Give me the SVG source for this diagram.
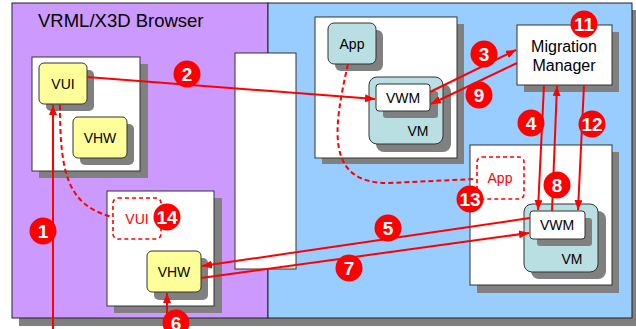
<svg xmlns="http://www.w3.org/2000/svg" width="636" height="329" viewBox="0 0 636 329">
<style>
  text { font-family: "Liberation Sans", Arial, sans-serif; }
  .sh { fill: #808080; }
  .win { fill: #ffffff; stroke: #333333; stroke-width: 1; }
  .yel { fill: #FFFF99; stroke: #333333; stroke-width: 1; }
  .teal { fill: #B9DFE2; stroke: #333333; stroke-width: 1; }
  .lbl { font-size: 14px; fill: #000000; text-anchor: middle; }
  .rl { font-size: 14px; fill: #ff0000; text-anchor: middle; }
  .dash { fill: #ffffff; stroke: #ff0000; stroke-width: 1.6; stroke-dasharray: 4 3; }
  .c { stroke: #ff0000; stroke-width: 2; fill: none; }
  .cd { stroke: #ff0000; stroke-width: 2; fill: none; stroke-dasharray: 5 3; }
  .badge circle { fill: #ff0000; }
  .badge text { font-size: 19px; font-weight: bold; fill: #ffffff; text-anchor: middle; }
</style>
<defs>
  <marker id="arr" markerUnits="userSpaceOnUse" markerWidth="10" markerHeight="8" refX="10" refY="4" orient="auto">
    <path d="M0,0 L10,4 L0,8 z" fill="#ff0000"/>
  </marker>
</defs>

<!-- panels -->
<g id="panels">
  <rect class="sh" x="19" y="10" width="620" height="316"/>
  <rect id="browser" x="12" y="3" width="256" height="315" fill="#CC99FF" stroke="#222" stroke-width="1"/>
  <rect id="host" x="268" y="3" width="364" height="315" fill="#99CCFF" stroke="#222" stroke-width="1"/>
  <text x="38" y="27" font-size="18.5" fill="#000">VRML/X3D Browser</text>
</g>

<!-- browser window with VUI and VHW -->
<g id="win-left">
  <rect class="sh" x="39" y="64" width="109" height="114"/>
  <rect class="win" x="32" y="57" width="108" height="114"/>
</g>
<g id="vui">
  <rect class="sh" x="46" y="70" width="48" height="41" rx="5"/>
  <rect class="yel" x="39" y="63" width="48" height="41" rx="5"/>
  <text class="lbl" x="63" y="88.5">VUI</text>
</g>
<g id="vhw-top">
  <rect class="sh" x="80" y="124" width="54" height="41" rx="5"/>
  <rect class="yel" x="73" y="117" width="54" height="41" rx="5"/>
  <text class="lbl" x="100" y="142.5">VHW</text>
</g>

<!-- lower browser window -->
<g id="win-low">
  <rect class="sh" x="114" y="198" width="108" height="115"/>
  <rect class="win" x="107" y="191" width="107" height="115"/>
</g>
<g id="vui-ghost">
  <rect class="dash" x="113" y="198" width="48" height="41" rx="5"/>
  <text class="rl" x="137" y="224">VUI</text>
</g>
<g id="vhw-low">
  <rect class="sh" x="154" y="258" width="54" height="42" rx="5"/>
  <rect class="yel" x="147" y="251" width="54" height="41" rx="5"/>
  <text class="lbl" x="174" y="276.5">VHW</text>
</g>

<!-- middle tall panel -->
<g id="bridge">
  <rect class="win" x="235" y="53" width="61" height="216"/>
</g>

<!-- upper host window -->
<g id="win-host-top">
  <rect class="sh" x="322" y="24" width="142" height="140"/>
  <rect class="win" x="315" y="17" width="142" height="141"/>
</g>
<g id="app-top">
  <rect class="sh" x="335" y="30" width="48" height="41" rx="6"/>
  <rect class="teal" x="328" y="23" width="48" height="41" rx="6"/>
  <text class="lbl" x="352" y="48.5">App</text>
</g>
<g id="vm-top">
  <rect class="sh" x="376" y="84" width="75" height="68" rx="8"/>
  <rect class="teal" x="369" y="77" width="74" height="67" rx="8"/>
  <text class="lbl" x="418" y="136">VM</text>
</g>
<g id="vwm-top">
  <rect class="sh" x="383" y="91" width="55" height="27" rx="3"/>
  <rect class="win" x="376" y="84" width="54" height="27" rx="3"/>
  <text class="lbl" x="403" y="102.5">VWM</text>
</g>

<!-- migration manager -->
<g id="migration-manager">
  <rect class="sh" x="524" y="32" width="95" height="60"/>
  <rect class="win" x="517" y="25" width="95" height="60"/>
  <text x="564" y="52" font-size="16" text-anchor="middle" fill="#000">Migration</text>
  <text x="564" y="71" font-size="16" text-anchor="middle" fill="#000">Manager</text>
</g>

<!-- lower host window -->
<g id="win-host-low">
  <rect class="sh" x="477" y="152" width="142" height="141"/>
  <rect class="win" x="470" y="145" width="142" height="140"/>
</g>
<g id="app-ghost">
  <rect class="dash" x="477" y="157" width="47" height="42" rx="5"/>
  <text class="rl" x="500" y="183">App</text>
</g>
<g id="vm-low">
  <rect class="sh" x="531" y="211" width="75" height="68" rx="8"/>
  <rect class="teal" x="524" y="204" width="74" height="68" rx="8"/>
  <text class="lbl" x="572" y="264">VM</text>
</g>
<g id="vwm-low">
  <rect class="sh" x="537" y="218" width="55" height="28" rx="3"/>
  <rect class="win" x="530" y="211" width="55" height="28" rx="3"/>
  <text class="lbl" x="557" y="230">VWM</text>
</g>

<!-- connectors -->
<g id="connectors">
  <path class="c" d="M53,329 L53,105" marker-end="url(#arr)"/>
  <path class="cd" d="M60,105 C60,175 68,205 112,217"/>
  <path class="c" d="M87,77 L375,99" marker-end="url(#arr)"/>
  <path class="c" d="M430,92 L516,50" marker-end="url(#arr)"/>
  <path class="c" d="M517,63 L431,104" marker-end="url(#arr)"/>
  <path class="c" d="M544,85 L538,210" marker-end="url(#arr)"/>
  <path class="c" d="M552,211 L557,86" marker-end="url(#arr)"/>
  <path class="c" d="M584,85 L578,210" marker-end="url(#arr)"/>
  <path class="c" d="M530,218 L202,266" marker-end="url(#arr)"/>
  <path class="c" d="M201,278 L529,233" marker-end="url(#arr)"/>
  <path class="c" d="M167,329 L167,293" marker-end="url(#arr)"/>
  <path class="cd" d="M348,64 C333,130 325,184 390,183 L476,179"/>
</g>

<!-- step numbers -->
<g id="steps">
  <g class="badge"><circle cx="43" cy="231" r="13.5"/><text x="43" y="238">1</text></g>
  <g class="badge"><circle cx="187" cy="74" r="13.5"/><text x="187" y="81">2</text></g>
  <g class="badge"><circle cx="484" cy="54" r="13.5"/><text x="484" y="61">3</text></g>
  <g class="badge"><circle cx="531" cy="123" r="13.5"/><text x="531" y="130">4</text></g>
  <g class="badge"><circle cx="388" cy="228" r="13.5"/><text x="388" y="235">5</text></g>
  <g class="badge"><circle cx="176" cy="323" r="13.5"/><text x="176" y="330">6</text></g>
  <g class="badge"><circle cx="349" cy="268" r="13.5"/><text x="349" y="275">7</text></g>
  <g class="badge"><circle cx="557" cy="185" r="13.5"/><text x="557" y="192">8</text></g>
  <g class="badge"><circle cx="479" cy="95" r="13.5"/><text x="479" y="102">9</text></g>
  <g class="badge"><circle cx="584" cy="24" r="13.5"/><text x="584" y="31">11</text></g>
  <g class="badge"><circle cx="592" cy="124" r="13.5"/><text x="592" y="131">12</text></g>
  <g class="badge"><circle cx="470" cy="199" r="13.5"/><text x="470" y="206">13</text></g>
  <g class="badge"><circle cx="167" cy="217" r="13.5"/><text x="167" y="224">14</text></g>
</g>
</svg>
